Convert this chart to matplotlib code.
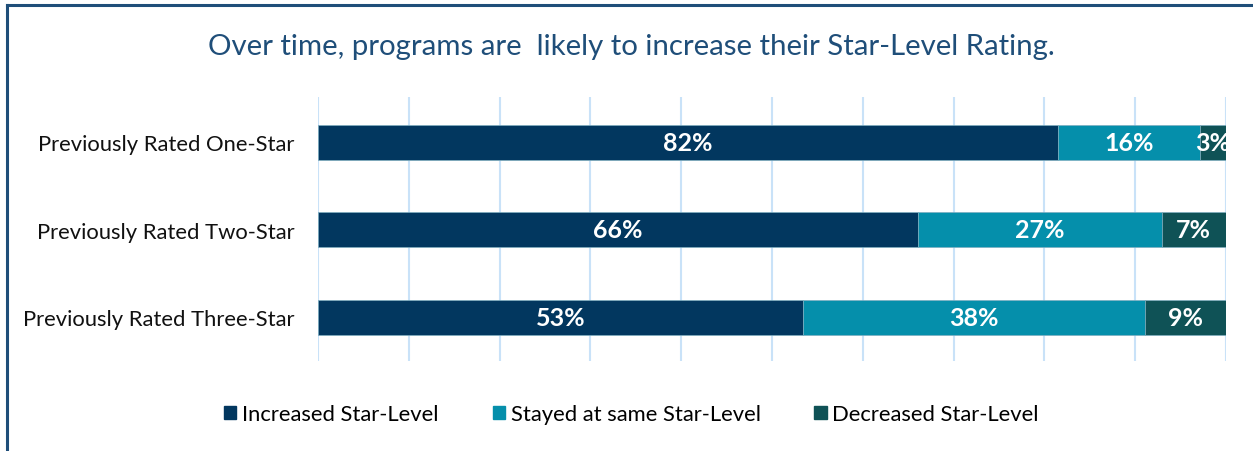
import numpy as np
import matplotlib.pyplot as plt
from matplotlib.lines import Line2D

# categories top to bottom
categories = ['Previously Rated One-Star', 'Previously Rated Two-Star', 'Previously Rated Three-Star']
series_names = ['Increased Star-Level', 'Stayed at same Star-Level', 'Decreased Star-Level']

# share of programs (%)
increased = [81.5, 66.1, 53.4]
stayed = [15.6, 26.8, 37.7]
decreased = [2.9, 7.1, 8.9]

# labels as printed on the bars
increased_lbl = ['82%', '66%', '53%']
stayed_lbl = ['16%', '27%', '38%']
decreased_lbl = ['3%', '7%', '9%']

colors = ['#02375F', '#058FAB', '#0F5256']
font = ['Lato', 'DejaVu Sans']

plt.rcParams['font.family'] = font

fig = plt.figure(figsize=(12.53, 4.52), dpi=100)
ax = fig.add_axes([0.2538, 0.1991, 0.7247, 0.5841])

y = np.arange(len(categories))
left = np.zeros(len(categories))
for vals, lbls, col, name in zip([increased, stayed, decreased],
                                 [increased_lbl, stayed_lbl, decreased_lbl],
                                 colors, series_names):
    vals = np.array(vals)
    bars = ax.barh(y, vals, left=left, height=0.4, color=col, label=name,
                   edgecolor='#7FAFC0', linewidth=0.5, zorder=3)
    for b, t in zip(bars, lbls):
        ax.text(b.get_x() + b.get_width() / 2, b.get_y() + b.get_height() / 2, t,
                ha='center', va='center', color='white', fontsize=18,
                fontweight='bold', zorder=4)
    left = left + vals

ax.set_xlim(0, 100)
ax.set_ylim(2.5, -0.52)
ax.set_xticks(np.arange(0, 101, 10))
ax.xaxis.grid(True, color='#C9E2F8', linewidth=1.5, zorder=0)
ax.tick_params(axis='x', length=0, labelbottom=False)
ax.tick_params(axis='y', length=0, pad=17)
ax.set_yticks(y)
ax.set_yticklabels(categories, fontsize=15.8, color='#111111')
for s in ax.spines.values():
    s.set_visible(False)

fig.text(0.504, 0.895, 'Over time, programs are  likely to increase their Star-Level Rating.',
         ha='center', va='center', fontsize=21.2, color='#1F4E79')

handles = [plt.Rectangle((0, 0), 1, 1, color=c) for c in colors]
fig.legend(handles, series_names, loc='center', bbox_to_anchor=(0.504, 0.082),
           ncol=3, frameon=False, fontsize=15.8, handlelength=0.55, handleheight=0.55,
           handletextpad=0.27, columnspacing=2.46)

# frame line along the top and left of the picture
fig.add_artist(Line2D([0.0055, 1.0], [0.9867, 0.9867], color='#1F4E79', linewidth=2.2))
fig.add_artist(Line2D([0.0055, 0.0055], [0.0, 0.9867], color='#1F4E79', linewidth=2.2))

fig.savefig('out.png', dpi=100)
